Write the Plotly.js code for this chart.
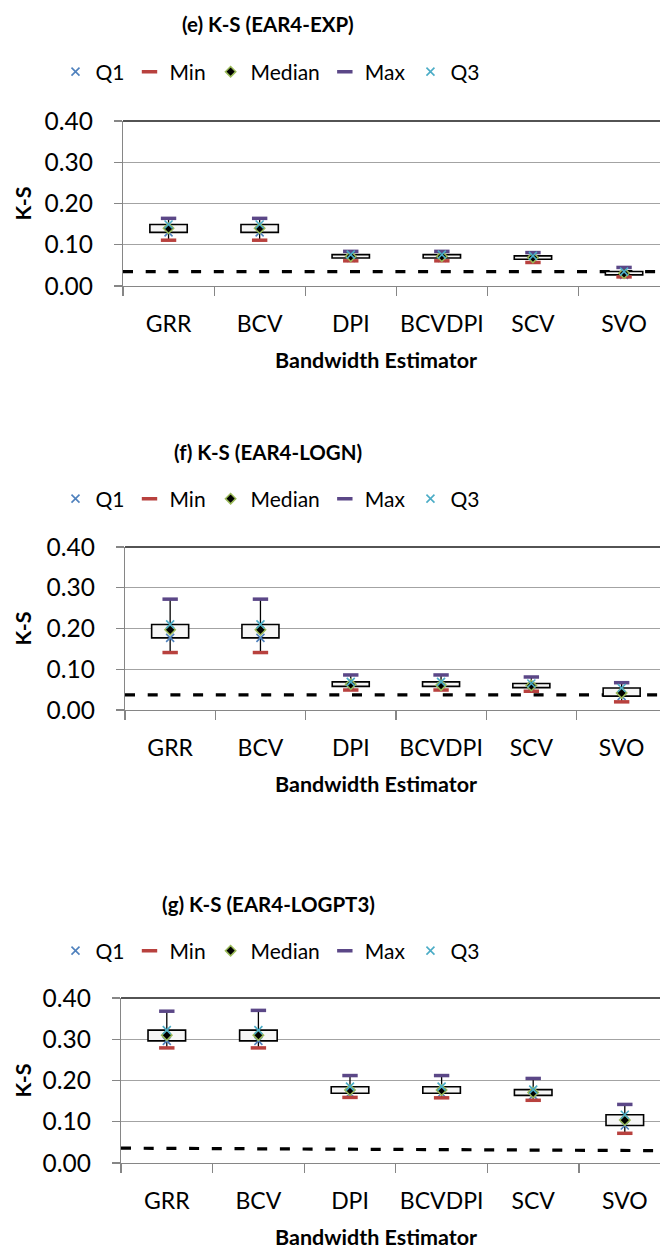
<!DOCTYPE html>
<html>
<head>
<meta charset="utf-8">
<script src="https://cdn.plot.ly/plotly-3.0.1.min.js"></script>
<style>
html,body{margin:0;padding:0;background:#fff;overflow:hidden;}
#chart{width:660px;height:1255px;}
</style>
</head>
<body>
<div id="chart"></div>
<script>
// ---------------- data ----------------
const categories = ['GRR','BCV','DPI','BCVDPI','SCV','SVO'];
const seriesNames = ['Q1','Min','Median','Max','Q3'];
const panelTitles = ['(e) K-S (EAR4-EXP)','(f) K-S (EAR4-LOGN)','(g) K-S (EAR4-LOGPT3)'];
const xAxisTitle = 'Bandwidth Estimator';
const yAxisTitle = 'K-S';
const yTickVals = [0, 0.1, 0.2, 0.3, 0.4];

// (e) EAR4-EXP
const e_min = [0.111, 0.111, 0.061, 0.061, 0.057, 0.022];
const e_q1  = [0.130, 0.130, 0.068, 0.068, 0.065, 0.027];
const e_med = [0.140, 0.140, 0.072, 0.072, 0.069, 0.031];
const e_q3  = [0.149, 0.149, 0.076, 0.076, 0.073, 0.035];
const e_max = [0.164, 0.164, 0.084, 0.084, 0.081, 0.045];
const e_crit = [0.035, 0.035];

// (f) EAR4-LOGN
const f_min = [0.141, 0.141, 0.049, 0.049, 0.046, 0.020];
const f_q1  = [0.177, 0.177, 0.058, 0.058, 0.055, 0.034];
const f_med = [0.197, 0.197, 0.063, 0.061, 0.060, 0.042];
const f_q3  = [0.210, 0.210, 0.069, 0.069, 0.065, 0.054];
const f_max = [0.272, 0.272, 0.086, 0.086, 0.081, 0.067];
const f_crit = [0.037, 0.037];

// (g) EAR4-LOGPT3
const g_min = [0.279, 0.279, 0.159, 0.158, 0.152, 0.072];
const g_q1  = [0.296, 0.296, 0.169, 0.169, 0.164, 0.091];
const g_med = [0.310, 0.310, 0.177, 0.177, 0.171, 0.104];
const g_q3  = [0.322, 0.322, 0.185, 0.185, 0.178, 0.117];
const g_max = [0.368, 0.370, 0.212, 0.212, 0.205, 0.142];
const g_crit = [0.036, 0.030];

// ---------------- layout geometry (px) ----------------
const W = 660, H = 1255;
const FONT = 'Lato, "Open Sans", sans-serif';
const panels = [
  {mins:e_min,q1:e_q1,med:e_med,q3:e_q3,maxs:e_max,crit:e_crit,
   top:121,bot:286,left:123,pitch:91.1,titleY:24,legY:72},
  {mins:f_min,q1:f_q1,med:f_med,q3:f_q3,maxs:f_max,crit:f_crit,
   top:547,bot:710,left:125,pitch:90.3,titleY:452,legY:499},
  {mins:g_min,q1:g_q1,med:g_med,q3:g_q3,maxs:g_max,crit:g_crit,
   top:998,bot:1163,left:121,pitch:91.6,titleY:904,legY:951}
];
const py = p => 1 - p / H;
const px = p => p / W;

const colors = {Q1:'#4f81bd', Min:'#b8413e', Median:'#000000', Max:'#5b4787', Q3:'#4bacc6'};

const data = [];
const layout = {
  width: W, height: H,
  margin: {l:0, r:0, t:0, b:0, pad:0},
  paper_bgcolor: '#ffffff', plot_bgcolor: '#ffffff',
  font: {family: FONT, color: '#000', size: 24},
  showlegend: true,
  barmode: 'overlay',
  annotations: [], shapes: []
};

panels.forEach((p, i) => {
  const n = i === 0 ? '' : String(i + 1);
  const xa = 'x' + n, ya = 'y' + n;
  const legName = 'legend' + n;

  // whiskers
  const wx = [], wy = [];
  categories.forEach((c, k) => {
    wx.push(c, c, null, c, c, null);
    wy.push(p.q3[k], p.maxs[k], null, p.q1[k], p.mins[k], null);
  });
  data.push({type:'scatter', mode:'lines', x:wx, y:wy, xaxis:xa, yaxis:ya,
    line:{color:'#000', width:1.3}, showlegend:false, hoverinfo:'skip', legend:legName});

  // box (Q1..Q3)
  data.push({type:'bar', x:categories, base:p.q1, y:p.q3.map((v,k)=>v - p.q1[k]),
    xaxis:xa, yaxis:ya, width:0.41,
    marker:{color:'#f6f6f6', line:{color:'#000', width:1.6}},
    showlegend:false, hoverinfo:'skip', legend:legName});

  // marker series
  const series = [
    {name:'Q1', y:p.q1, marker:{symbol:'x-thin', size:8, line:{color:colors.Q1, width:1.6}}},
    {name:'Min', y:p.mins, marker:{symbol:'line-ew', size:11, line:{color:colors.Min, width:3.5}}},
    {name:'Median', y:p.med, marker:{symbol:'diamond', size:8, color:colors.Median, line:{color:'#9bbb59', width:1.5}}},
    {name:'Max', y:p.maxs, marker:{symbol:'line-ew', size:11, line:{color:colors.Max, width:3.5}}},
    {name:'Q3', y:p.q3, marker:{symbol:'x-thin', size:8, line:{color:colors.Q3, width:1.6}}}
  ];
  series.forEach(s => {
    data.push({type:'scatter', mode:'markers', name:s.name, x:categories, y:s.y,
      xaxis:xa, yaxis:ya, marker:s.marker, legend:legName, hoverinfo:'skip'});
  });

  const domX = [px(p.left), 1];
  const domY = [py(p.bot), py(p.top)];
  layout['xaxis' + n] = {
    type:'category', categoryarray:categories, categoryorder:'array',
    domain:domX, anchor:ya, range:[-0.5, (W - p.left) / p.pitch - 0.5],
    showgrid:false, zeroline:false, showline:true, linecolor:'#868686', linewidth:1.2,
    ticks:'outside', tickson:'boundaries', ticklen:9, tickcolor:'#868686', tickwidth:1.2,
    tickangle:0,
    tickfont:{family:FONT, size:23, color:'#000'}, ticklabelstandoff:17,
    automargin:false, fixedrange:true
  };
  layout['yaxis' + n] = {
    domain:domY, anchor:xa, range:[0, 0.4], tickvals:yTickVals, tickformat:'.2f',
    showgrid:true, gridcolor:'#a3a3a3', gridwidth:1.2, zeroline:false,
    showline:true, linecolor:'#868686', linewidth:1.2,
    ticks:'outside', ticklen:8, tickcolor:'#868686', tickwidth:1.2,
    tickfont:{family:FONT, size:24.5, color:'#000'}, ticklabelstandoff:16,
    automargin:false, fixedrange:true
  };

  // top border of plot area
  layout.shapes.push({type:'line', xref:xa + ' domain', yref:ya + ' domain',
    x0:0, x1:1, y0:1, y1:1, line:{color:'#1a1a1a', width:1.5}, layer:'above'});
  // critical value dashed line
  layout.shapes.push({type:'line', xref:xa + ' domain', yref:ya,
    x0:0, x1:1, y0:p.crit[0], y1:p.crit[1],
    line:{color:'#000', width:3.2, dash:'10px,12.7px'}, layer:'below'});

  layout[legName] = {
    orientation:'h', x:px(270), xanchor:'center', y:py(p.legY), yanchor:'middle',
    xref:'paper', yref:'paper', bgcolor:'rgba(0,0,0,0)', borderwidth:0,
    font:{family:FONT, size:21, color:'#000'}, itemwidth:30, traceorder:'normal'
  };

  // panel title
  layout.annotations.push({text:'<b>' + panelTitles[i] + '</b>', xref:'paper', yref:'paper',
    x:px(268), y:py(p.titleY), xanchor:'center', yanchor:'middle', showarrow:false,
    font:{family:FONT, size:20.5, color:'#000'}});
  // x axis title
  layout.annotations.push({text:'<b>' + xAxisTitle + '</b>', xref:'paper', yref:'paper',
    x:px(376), y:py(p.bot + 74), xanchor:'center', yanchor:'middle', showarrow:false,
    font:{family:FONT, size:21.5, color:'#000'}});
  // y axis title
  layout.annotations.push({text:'<b>' + yAxisTitle + '</b>', xref:'paper', yref:'paper',
    x:px(22), y:py((p.top + p.bot) / 2), xanchor:'center', yanchor:'middle', showarrow:false,
    textangle:-90, font:{family:FONT, size:21.5, color:'#000'}});
});

Plotly.newPlot('chart', data, layout, {staticPlot:true, displayModeBar:false});
</script>
</body>
</html>
